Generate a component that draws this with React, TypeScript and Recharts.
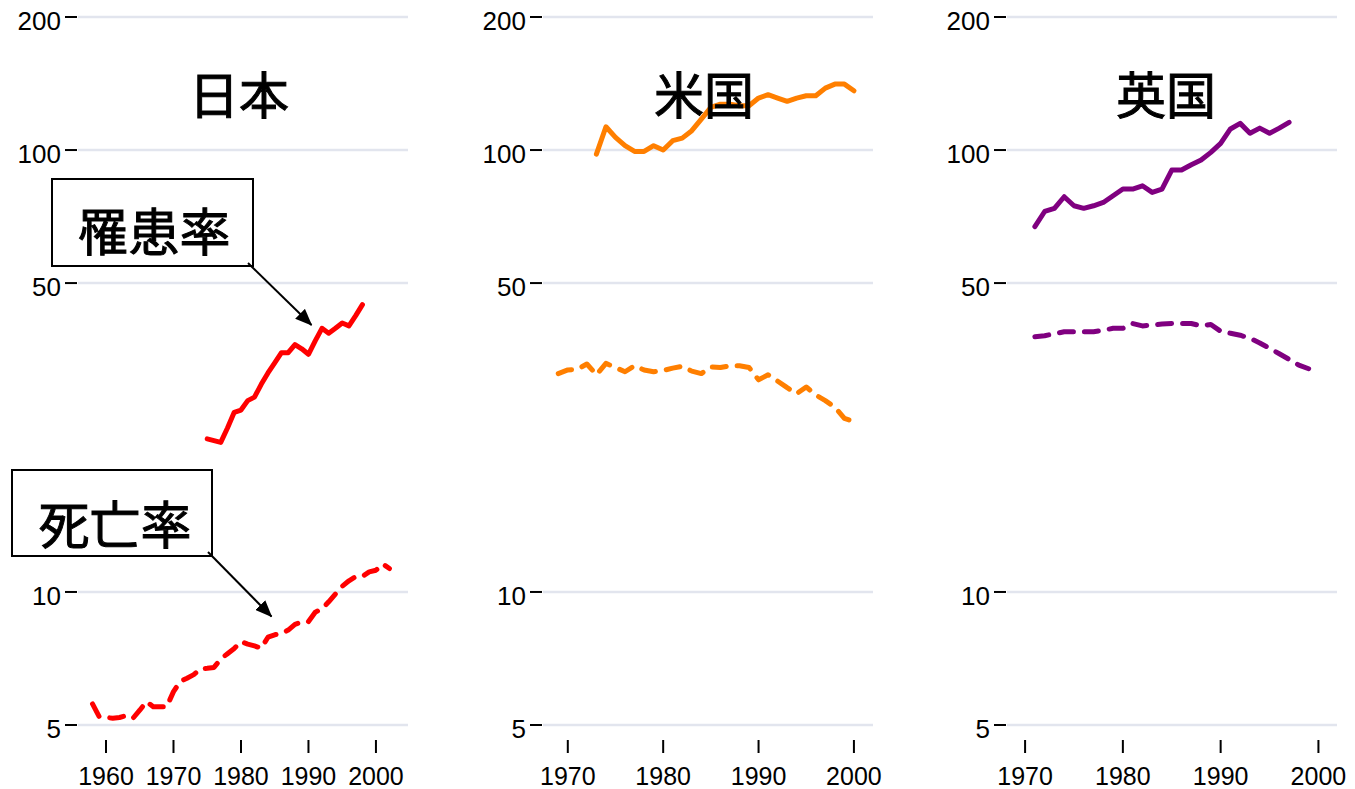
import { LineChart, Line, XAxis, YAxis, CartesianGrid } from "recharts";

const COUNTRIES = ["日本", "米国", "英国"];
const LABEL_INCIDENCE = "罹患率";
const LABEL_MORTALITY = "死亡率";

const Y_TICKS = [5, 10, 50, 100, 200];

// 日本
const jpIncYears = [1975, 1976, 1977, 1978, 1979, 1980, 1981, 1982, 1983, 1984, 1985, 1986, 1987, 1988, 1989, 1990, 1991, 1992, 1993, 1994, 1995, 1996, 1997, 1998];
const jpIncRate = [22.2, 22.0, 21.8, 23.5, 25.5, 25.8, 27.1, 27.6, 29.5, 31.3, 33.0, 34.8, 34.8, 36.3, 35.5, 34.5, 37.0, 39.5, 38.5, 39.5, 40.6, 40.0, 42.2, 44.7];
const jpMortYears = [1958, 1959, 1960, 1961, 1962, 1963, 1964, 1965, 1966, 1967, 1968, 1969, 1970, 1971, 1972, 1973, 1974, 1975, 1976, 1977, 1978, 1979, 1980, 1981, 1982, 1983, 1984, 1985, 1986, 1987, 1988, 1989, 1990, 1991, 1992, 1993, 1994, 1995, 1996, 1997, 1998, 1999, 2000, 2001, 2002];
const jpMortRate = [5.58, 5.22, 5.2, 5.18, 5.2, 5.25, 5.18, 5.4, 5.65, 5.5, 5.5, 5.5, 5.95, 6.27, 6.38, 6.5, 6.7, 6.72, 6.75, 7.05, 7.25, 7.45, 7.72, 7.62, 7.55, 7.46, 7.9, 8.0, 8.05, 8.2, 8.45, 8.55, 8.57, 9.0, 9.15, 9.5, 9.9, 10.3, 10.6, 10.83, 10.85, 11.1, 11.2, 11.57, 11.3];
const jpTicks = [1960, 1970, 1980, 1990, 2000];

// 米国
const usIncYears = [1973, 1974, 1975, 1976, 1977, 1978, 1979, 1980, 1981, 1982, 1983, 1984, 1985, 1986, 1987, 1988, 1989, 1990, 1991, 1992, 1993, 1994, 1995, 1996, 1997, 1998, 1999, 2000];
const usIncRate = [97.9, 112.9, 106.8, 102.3, 99.3, 99.3, 102.3, 100, 105, 106.4, 110.6, 117.5, 124.9, 127, 127, 126, 126, 131.1, 133.4, 131.1, 128.9, 131.1, 132.7, 132.7, 138.1, 141, 141, 136.2];
const usMortYears = [1969, 1970, 1971, 1972, 1973, 1974, 1975, 1976, 1977, 1978, 1979, 1980, 1981, 1982, 1983, 1984, 1985, 1986, 1987, 1988, 1989, 1990, 1991, 1992, 1993, 1994, 1995, 1996, 1997, 1998, 1999, 2000];
const usMortRate = [31.2, 31.8, 31.9, 32.8, 31.0, 32.9, 32.2, 31.5, 32.5, 31.8, 31.5, 31.7, 32.1, 32.4, 31.6, 31.2, 32.3, 32.2, 32.5, 32.5, 32.2, 30.2, 31.0, 30.0, 29.0, 28.1, 29.1, 27.9, 27.1, 26.2, 24.7, 24.3];
const usTicks = [1970, 1980, 1990, 2000];

// 英国
const ukIncYears = [1971, 1972, 1973, 1974, 1975, 1976, 1977, 1978, 1979, 1980, 1981, 1982, 1983, 1984, 1985, 1986, 1987, 1988, 1989, 1990, 1991, 1992, 1993, 1994, 1995, 1996, 1997];
const ukIncRate = [67.1, 72.6, 73.8, 78.4, 74.8, 73.8, 74.8, 76.1, 78.8, 81.6, 81.6, 83.0, 80.2, 81.6, 90.1, 90.1, 92.6, 94.9, 98.8, 103.5, 111.6, 114.9, 109.1, 112.1, 109.1, 112.1, 115.5];
const ukMortYears = [1971, 1972, 1973, 1974, 1975, 1976, 1977, 1978, 1979, 1980, 1981, 1982, 1983, 1984, 1985, 1986, 1987, 1988, 1989, 1990, 1991, 1992, 1993, 1994, 1995, 1996, 1997, 1998, 1999];
const ukMortRate = [37.8, 38.0, 38.4, 38.8, 38.8, 38.8, 38.8, 39.1, 39.5, 39.5, 40.5, 40.0, 40.2, 40.4, 40.5, 40.5, 40.5, 40.0, 40.3, 38.9, 38.5, 38.1, 37.5, 36.6, 35.6, 34.6, 33.6, 32.6, 32.0];

const GRID = "#e2e5ee";
const NUM_FONT = "'Liberation Sans', Arial, sans-serif";
const CJK_FONT = "'Noto Sans CJK JP', sans-serif";

const toRows = (years: number[], vals: number[]) => years.map((year, i) => ({ year, v: vals[i] }));

const panels = [
  { name: COUNTRIES[0], color: "#ff0000", inc: toRows(jpIncYears, jpIncRate), mort: toRows(jpMortYears, jpMortRate), ticks: jpTicks, domain: [1955.85, 2004.75], left: 0 },
  { name: COUNTRIES[1], color: "#ff7f00", inc: toRows(usIncYears, usIncRate), mort: toRows(usMortYears, usMortRate), ticks: usTicks, domain: [1967.4, 2002.0], left: 465 },
  { name: COUNTRIES[2], color: "#800080", inc: toRows(ukIncYears, ukIncRate), mort: toRows(ukMortYears, ukMortRate), ticks: usTicks, domain: [1968.15, 2001.9], left: 929 },
];

function YTick({ x, y, payload }: any) {
  return (
    <g>
      <line x1={x - 13} x2={x - 1} y1={y} y2={y} stroke="#000" strokeWidth={2} />
      <text x={x - 17} y={y + 4} textAnchor="end" dominantBaseline="central" fontSize={26} fontFamily={NUM_FONT} fill="#000">
        {payload.value}
      </text>
    </g>
  );
}

function XTick({ x, y, payload }: any) {
  return (
    <g>
      <line x1={x} x2={x} y1={y + 15} y2={y + 28} stroke="#000" strokeWidth={2} />
      <text x={x} y={y + 60} textAnchor="middle" fontSize={25} fontFamily={NUM_FONT} fill="#000">
        {payload.value}
      </text>
    </g>
  );
}

function Panel({ p }: { p: (typeof panels)[number] }) {
  return (
    <div style={{ position: "absolute", left: p.left, top: 0 }}>
      <LineChart width={426} height={789} margin={{ top: 17, right: 18, bottom: 0, left: 0 }}>
        <CartesianGrid vertical={false} stroke={GRID} strokeWidth={2.5} />
        <XAxis
          type="number"
          dataKey="year"
          domain={p.domain}
          ticks={p.ticks}
          allowDataOverflow
          axisLine={false}
          tickLine={false}
          tickSize={0}
          tickMargin={0}
          height={64}
          tick={<XTick />}
        />
        <YAxis
          type="number"
          scale="log"
          domain={[5, 200]}
          ticks={Y_TICKS}
          allowDataOverflow
          axisLine={false}
          tickLine={false}
          tickSize={0}
          tickMargin={0}
          width={78}
          tick={<YTick />}
        />
        <Line data={p.inc} dataKey="v" type="linear" stroke={p.color} strokeWidth={5} strokeLinejoin="round" strokeLinecap="round" dot={false} isAnimationActive={false} />
        <Line data={p.mort} dataKey="v" type="linear" stroke={p.color} strokeWidth={5} strokeLinejoin="round" strokeLinecap="round" strokeDasharray="14 11" dot={false} isAnimationActive={false} />
      </LineChart>
    </div>
  );
}

const cjkText = {
  textAnchor: "middle" as const,
  dominantBaseline: "central" as const,
  fontFamily: CJK_FONT,
  fill: "#000",
  stroke: "#000",
  strokeWidth: 1,
};

export default function App() {
  const titleX = [239, 704, 1166];
  return (
    <div style={{ position: "fixed", left: 0, top: 0, width: 1355, height: 789, background: "#fff", overflow: "hidden" }}>
      {panels.map((p) => (
        <Panel key={p.name} p={p} />
      ))}
      <svg width={1355} height={789} style={{ position: "absolute", left: 0, top: 0, pointerEvents: "none" }}>
        <defs>
          <marker id="ah" markerWidth={17} markerHeight={14} refX={16} refY={7} orient="auto" markerUnits="userSpaceOnUse">
            <path d="M0,0 L17,7 L0,14 z" fill="#000" />
          </marker>
        </defs>
        {panels.map((p, i) => (
          <text key={p.name} x={titleX[i]} y={92} fontSize={50} {...cjkText}>
            {p.name}
          </text>
        ))}
        <rect x={52} y={179} width={201} height={87} fill="#fff" stroke="#000" strokeWidth={2} />
        <text x={154} y={229} fontSize={51} {...cjkText}>
          {LABEL_INCIDENCE}
        </text>
        <line x1={248} y1={263} x2={311.5} y2={325} stroke="#000" strokeWidth={2} markerEnd="url(#ah)" />
        <rect x={12} y={470} width={200} height={86} fill="#fff" stroke="#000" strokeWidth={2} />
        <text x={115} y={522} fontSize={51} {...cjkText}>
          {LABEL_MORTALITY}
        </text>
        <line x1={208} y1={552} x2={271.5} y2={616.5} stroke="#000" strokeWidth={2} markerEnd="url(#ah)" />
      </svg>
    </div>
  );
}
